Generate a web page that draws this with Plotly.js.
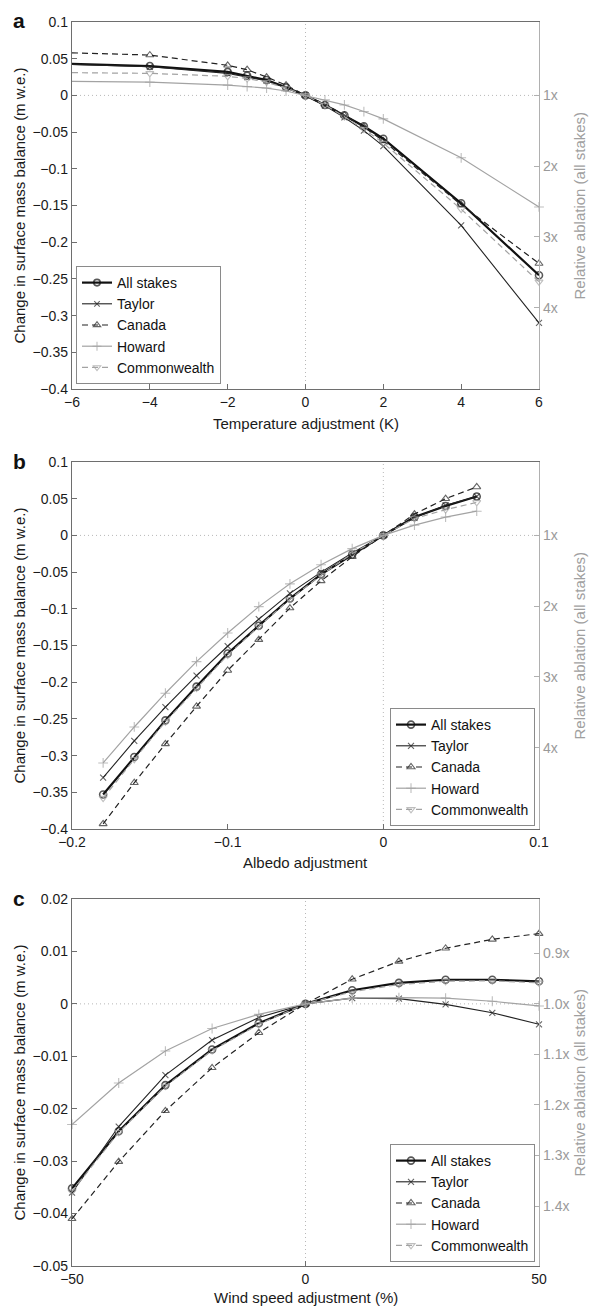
<!DOCTYPE html>
<html>
<head>
<meta charset="utf-8">
<script src="https://cdn.plot.ly/plotly-3.0.1.min.js"></script>
<style>
  html, body { margin: 0; padding: 0; background: #fff; }
  #chart { width: 590px; height: 1307px; }
</style>
</head>
<body>
<div id="chart"></div>
<script>
// ---- data (m w.e.) ----
const seriesNames = ["All stakes", "Taylor", "Canada", "Howard", "Commonwealth"];

const tempAdj    = [-6, -4, -2, -1.5, -1, -0.5, 0, 0.5, 1, 1.5, 2, 4, 6];
const tempAll    = [0.043, 0.040, 0.032, 0.027, 0.021, 0.011, 0, -0.013, -0.027, -0.042, -0.059, -0.147, -0.245];
const tempTaylor = [0.042, 0.039, 0.030, 0.025, 0.020, 0.010, 0, -0.014, -0.030, -0.048, -0.069, -0.177, -0.310];
const tempCanada = [0.058, 0.055, 0.041, 0.035, 0.025, 0.014, 0, -0.012, -0.027, -0.043, -0.062, -0.149, -0.229];
const tempHoward = [0.019, 0.018, 0.014, 0.012, 0.010, 0.006, 0, -0.006, -0.013, -0.022, -0.032, -0.085, -0.152];
const tempCommon = [0.031, 0.030, 0.026, 0.023, 0.018, 0.010, 0, -0.013, -0.029, -0.046, -0.065, -0.155, -0.254];

const albAdj    = [-0.18, -0.16, -0.14, -0.12, -0.10, -0.08, -0.06, -0.04, -0.02, 0, 0.02, 0.04, 0.06];
const albAll    = [-0.353, -0.302, -0.252, -0.206, -0.161, -0.123, -0.086, -0.053, -0.026, 0, 0.025, 0.040, 0.053];
const albTaylor = [-0.330, -0.280, -0.234, -0.191, -0.151, -0.114, -0.079, -0.050, -0.024, 0, 0.024, 0.041, 0.053];
const albCanada = [-0.393, -0.337, -0.284, -0.233, -0.184, -0.142, -0.099, -0.062, -0.029, 0, 0.029, 0.050, 0.066];
const albHoward = [-0.310, -0.261, -0.215, -0.172, -0.133, -0.097, -0.066, -0.040, -0.018, 0, 0.014, 0.025, 0.033];
const albCommon = [-0.358, -0.305, -0.254, -0.208, -0.163, -0.124, -0.087, -0.054, -0.025, 0, 0.023, 0.035, 0.045];

const windAdj    = [-50, -40, -30, -20, -10, 0, 10, 20, 30, 40, 50];
const windAll    = [-0.0352, -0.0243, -0.0155, -0.0087, -0.0037, 0, 0.0026, 0.0040, 0.0046, 0.0046, 0.0043];
const windTaylor = [-0.0360, -0.0234, -0.0136, -0.0069, -0.0026, 0, 0.0011, 0.0010, -0.0001, -0.0017, -0.0039];
const windCanada = [-0.0410, -0.0301, -0.0204, -0.0122, -0.0055, 0, 0.0047, 0.0081, 0.0106, 0.0123, 0.0134];
const windHoward = [-0.0230, -0.0151, -0.0090, -0.0047, -0.0020, 0, 0.0011, 0.0012, 0.0011, 0.0005, -0.0004];
const windCommon = [-0.0358, -0.0245, -0.0157, -0.0089, -0.0039, 0, 0.0023, 0.0037, 0.0043, 0.0044, 0.0040];

// baseline ablation (all stakes) used for the right-hand "relative ablation" axis
const baseAblation = 0.0964;
const ratioTicksAB = [1, 2, 3, 4];
const ratioTicksC  = [0.9, 1.0, 1.1, 1.2, 1.3, 1.4];

// ---- styling ----
const FONT = "Liberation Sans, Arial, Helvetica, sans-serif";
const GREY = "#a3a3a3";
const STYLES = [
    { color: "#111", width: 2.2, dash: "solid",   symbol: "circle-open",        size: 7 },
    { color: "#222", width: 1.1, dash: "solid",   symbol: "x-thin-open",        size: 6 },
    { color: "#222", width: 1.2, dash: "6px,4px", symbol: "triangle-up-open",   size: 7 },
    { color: GREY,   width: 1.2, dash: "solid",   symbol: "cross-thin-open",    size: 7 },
    { color: GREY,   width: 1.2, dash: "6px,4px", symbol: "triangle-down-open", size: 7 },
];

const W = 590, H = 1307;
const XDOM = [72 / W, 539 / W];
const PANELS = [
    { top: 22,  bottom: 389, titleGap: 35 },
    { top: 462, bottom: 829, titleGap: 33 },
    { top: 899, bottom: 1266, titleGap: 31 },
];

function makeTraces(panelIdx, xs, ysList, hideAt) {
    const sfx = panelIdx === 0 ? "" : String(panelIdx + 1);
    const traces = ysList.map((ys, i) => {
        const st = STYLES[i];
        return {
            type: "scatter",
            mode: "lines+markers",
            name: seriesNames[i],
            x: xs,
            y: ys,
            xaxis: "x" + sfx,
            yaxis: "y" + sfx,
            legend: "legend" + sfx,
            cliponaxis: false,
            line: { color: st.color, width: st.width, dash: st.dash },
            marker: {
                symbol: st.symbol,
                size: xs.map(v => (v === hideAt ? 0 : st.size)),
                color: st.color,
                line: { color: st.color, width: i === 0 ? 1.6 : 1.1 },
            },
            hoverinfo: "x+y+name",
        };
    });
    // all-stakes series as relative ablation on the right axis (invisible, carries the axis)
    traces.push({
        type: "scatter",
        mode: "lines",
        x: xs,
        y: ysList[0].map(v => 1 - v / baseAblation),
        xaxis: "x" + sfx,
        yaxis: "y" + (panelIdx + 4),
        line: { color: "rgba(0,0,0,0)", width: 0 },
        showlegend: false,
        hoverinfo: "skip",
    });
    return traces;
}

const data = [
    ...makeTraces(0, tempAdj, [tempAll, tempTaylor, tempCanada, tempHoward, tempCommon], -6),
    ...makeTraces(1, albAdj,  [albAll, albTaylor, albCanada, albHoward, albCommon], null),
    ...makeTraces(2, windAdj, [windAll, windTaylor, windCanada, windHoward, windCommon], null),
];

const TICKFONT = { family: FONT, size: 14, color: "#1a1a1a" };
const baseX = {
    domain: XDOM,
    showgrid: false,
    zeroline: false,
    showline: true,
    mirror: true,
    linecolor: "#6e6e6e",
    linewidth: 1.2,
    ticks: "inside",
    ticklen: 5,
    tickcolor: "#6e6e6e",
    tickfont: TICKFONT,
};
const baseY = {
    showgrid: false,
    zeroline: false,
    showline: true,
    linecolor: "#6e6e6e",
    linewidth: 1.2,
    ticks: "inside",
    ticklen: 5,
    tickcolor: "#6e6e6e",
    tickfont: TICKFONT,
};
const baseR = {
    side: "right",
    showgrid: false,
    zeroline: false,
    showline: true,
    linecolor: "#b0b0b0",
    linewidth: 1.2,
    ticks: "inside",
    ticklen: 5,
    tickcolor: "#b0b0b0",
    tickfont: { family: FONT, size: 14, color: "#9a9a9a" },
};

const yRanges = [[-0.4, 0.1], [-0.4, 0.1], [-0.05, 0.02]];
const yDticks = [0.05, 0.05, 0.01];
const xRanges = [[-6, 6], [-0.2, 0.1], [-50, 50]];
const xDticks = [2, 0.1, 50];
const xTitles = ["Temperature adjustment (K)", "Albedo adjustment", "Wind speed adjustment (%)"];
const panelLetters = ["a", "b", "c"];
const legendBottoms = [384, 826, 1262];

const layout = {
    width: W,
    height: H,
    margin: { l: 0, r: 0, t: 0, b: 0 },
    paper_bgcolor: "#fff",
    plot_bgcolor: "#fff",
    font: { family: FONT, color: "#1a1a1a" },
    showlegend: true,
    shapes: [],
    annotations: [],
};

PANELS.forEach((p, k) => {
    const sfx = k === 0 ? "" : String(k + 1);
    const rsfx = String(k + 4);
    const ydom = [1 - p.bottom / H, 1 - p.top / H];
    const yr = yRanges[k];

    layout["xaxis" + sfx] = Object.assign({}, baseX, {
        anchor: "y" + sfx, range: xRanges[k], tick0: 0, dtick: xDticks[k],
    });
    layout["yaxis" + sfx] = Object.assign({}, baseY, {
        anchor: "x" + sfx, domain: ydom, range: yr, tick0: 0, dtick: yDticks[k],
    });
    const rTicks = k < 2 ? ratioTicksAB : ratioTicksC;
    layout["yaxis" + rsfx] = Object.assign({}, baseR, {
        anchor: "x" + sfx,
        overlaying: "y" + sfx,
        range: [1 - yr[0] / baseAblation, 1 - yr[1] / baseAblation],
        tickmode: "array",
        tickvals: rTicks,
        ticktext: rTicks.map(v => (k < 2 ? v.toFixed(0) : v.toFixed(1)) + "x"),
    });

    // dotted zero lines
    const dotted = { color: "#b8b8b8", width: 1, dash: "1px,3px" };
    layout.shapes.push(
        { type: "line", layer: "below", xref: "x" + sfx + " domain", x0: 0, x1: 1,
          yref: "y" + sfx, y0: 0, y1: 0, line: dotted },
        { type: "line", layer: "below", xref: "x" + sfx, x0: 0, x1: 0,
          yref: "y" + sfx + " domain", y0: 0, y1: 1, line: dotted }
    );

    const midY = 1 - (p.top + p.bottom) / 2 / H;
    layout.annotations.push(
        { text: panelLetters[k], xref: "paper", yref: "paper", x: 19 / W, y: 1 - (p.top - 1) / H,
          showarrow: false, xanchor: "center", yanchor: "middle",
          font: { family: FONT, size: 21, color: "#111", weight: "bold" } },
        { text: "Change in surface mass balance (m w.e.)", xref: "paper", yref: "paper",
          x: 19 / W, y: midY, textangle: -90, showarrow: false, xanchor: "center", yanchor: "middle",
          font: { family: FONT, size: 15, color: "#1a1a1a" } },
        { text: "Relative ablation (all stakes)", xref: "paper", yref: "paper",
          x: 579 / W, y: midY, textangle: -90, showarrow: false, xanchor: "center", yanchor: "middle",
          font: { family: FONT, size: 15, color: "#a0a0a0" } },
        { text: xTitles[k], xref: "paper", yref: "paper",
          x: (XDOM[0] + XDOM[1]) / 2, y: 1 - (p.bottom + p.titleGap) / H, showarrow: false,
          xanchor: "center", yanchor: "middle",
          font: { family: FONT, size: 15, color: "#1a1a1a" } }
    );

    layout["legend" + sfx] = {
        x: k === 0 ? 76 / W : 535 / W,
        xanchor: k === 0 ? "left" : "right",
        y: 1 - legendBottoms[k] / H,
        yanchor: "bottom",
        bgcolor: "#fff",
        bordercolor: "#8a8a8a",
        borderwidth: 1,
        font: { family: FONT, size: 14, color: "#111" },
        itemwidth: 30,
        tracegroupgap: 0,
    };
});

Plotly.newPlot("chart", data, layout, { displayModeBar: false, staticPlot: true });
</script>
</body>
</html>
